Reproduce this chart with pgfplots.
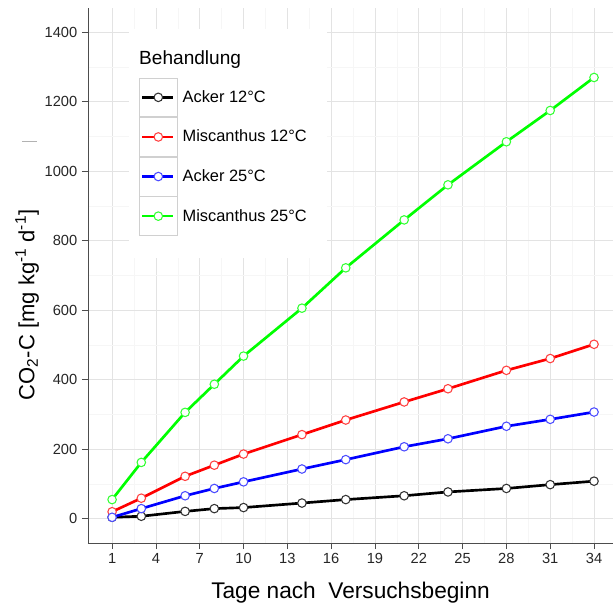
\documentclass[border=0pt]{standalone}
\usepackage{fontspec}
\setmainfont{Liberation Sans}
\usepackage{pgfplots}
\pgfplotsset{compat=1.18}

\definecolor{axgray}{HTML}{4D4D4D}
\definecolor{keybox}{HTML}{D0D0D0}

\begin{document}
\begin{tikzpicture}
\begin{axis}[
  scale only axis,
  width=393.75pt, height=401.25pt,
  xmin=-0.65, xmax=35.3,
  ymin=-70, ymax=1470,
  xtick={1,4,...,34},
  ytick={0,200,...,1400},
  minor xtick={2.5,5.5,...,32.5},
  minor ytick={100,300,...,1300},
  grid=both,
  major grid style={gray!22, line width=0.6pt},
  minor grid style={gray!7, line width=0.4pt},
  axis x line*=bottom, axis y line*=left,
  axis line style={axgray, line width=0.6pt, -},
  tick align=outside,
  major tick length=4.5pt, minor tick length=0pt,
  tick style={axgray, line width=0.6pt},
  /pgf/number format/assume math mode=true,
  /pgf/number format/1000 sep={},
  ticklabel style={font=\fontsize{11}{13}\selectfont, text=black!85},
  xlabel={Tage nach~ Versuchsbeginn},
  xlabel style={at={(axis description cs:0.5,-0.0935)}, anchor=center,
    font=\fontsize{17}{20}\selectfont},
  ylabel={CO\textsubscript{2}-C [mg kg\textsuperscript{-1} d\textsuperscript{-1}]},
  ylabel style={at={(axis description cs:-0.116,0.445)}, anchor=center,
    font=\fontsize{16.5}{19}\selectfont},
  clip=false,
  legend cell align=left,
  legend style={
    at={(axis description cs:0.0971,0.870)}, anchor=north west,
    draw=none, fill=none, inner sep=0pt, outer sep=0pt,
    row sep=0pt, column sep=3.75pt,
    nodes={inner sep=0pt, font=\fontsize{12.3}{14}\selectfont},
  },
  legend image code/.code={
    \draw[keybox, line width=0.5pt, solid, fill=none] (0pt,-14.6pt) rectangle (28.5pt,14.6pt);
    \draw[mark repeat=2, mark phase=2, #1] plot coordinates {(2.25pt,0pt) (14.25pt,0pt) (25.5pt,0pt)};
  },
]
\coordinate (ll) at (rel axis cs:0,0);
\coordinate (ur) at (rel axis cs:1,1);
\fill[white] (axis description cs:0.078,0.96) rectangle (axis description cs:0.455,0.533);

\addplot[black, line width=2pt, mark=*, mark size=3.2pt,
  mark options={draw=black!80, fill=white, line width=0.8pt, solid}]
  coordinates {(1,4) (3,7) (6,21) (8,29) (10,32) (14,45) (17,55) (21,66) (24,77) (28,87) (31,98) (34,108)};
\addlegendentry{Acker 12°C}
\addplot[red, line width=2pt, mark=*, mark size=3.2pt,
  mark options={draw=red!75!white, fill=white, line width=0.8pt, solid}]
  coordinates {(1,20) (3,59) (6,122) (8,154) (10,186) (14,242) (17,284) (21,336) (24,374) (28,427) (31,461) (34,502)};
\addlegendentry{Miscanthus 12°C}
\addplot[blue, line width=2pt, mark=*, mark size=3.2pt,
  mark options={draw=blue!70!white, fill=white, line width=0.8pt, solid}]
  coordinates {(1,4) (3,29) (6,66) (8,87) (10,106) (14,143) (17,170) (21,207) (24,230) (28,266) (31,286) (34,307)};
\addlegendentry{Acker 25°C}
\addplot[green, line width=2pt, mark=*, mark size=3.2pt,
  mark options={draw=green!80!white, fill=white, line width=0.8pt, solid}]
  coordinates {(1,55) (3,162) (6,306) (8,387) (10,468) (14,606) (17,722) (21,860) (24,961) (28,1085) (31,1175) (34,1270)};
\addlegendentry{Miscanthus 25°C}

\node[anchor=west, inner sep=0pt, font=\fontsize{14.3}{16}\selectfont]
  at (axis description cs:0.0971,0.903) {Behandlung};
\draw[gray!60, line width=0.6pt] (axis description cs:-0.126,0.751) -- (axis description cs:-0.097,0.751);
\end{axis}
\pgfresetboundingbox
\path[use as bounding box] ([xshift=-66pt,yshift=-47.25pt]ll) rectangle ([yshift=6pt]ur);
\end{tikzpicture}
\end{document}
